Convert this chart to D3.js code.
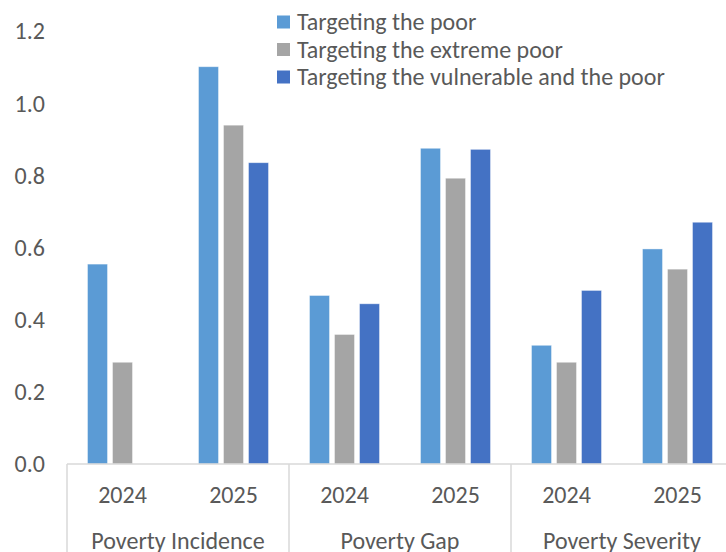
<!DOCTYPE html>
<html><head><meta charset="utf-8">
<script src="https://cdn.jsdelivr.net/npm/d3@7"></script>
<style>
body{margin:0;background:#fff;}
svg{display:block;font-family:Calibri,Carlito,"Open Sans","Noto Sans",sans-serif;}
</style></head>
<body><svg id="c" width="726" height="552"></svg>
<script>
const groups = ["Poverty Incidence", "Poverty Gap", "Poverty Severity"];
const years = ["2024", "2025"];
const seriesNames = ["Targeting the poor", "Targeting the extreme poor", "Targeting the vulnerable and the poor"];
const seriesColors = ["#5B9BD5", "#A5A5A5", "#4472C4"];
// values per series, ordered: Incidence 2024, 2025, Gap 2024, 2025, Severity 2024, 2025
const poor        = [0.554, 1.101, 0.467, 0.875, 0.329, 0.596];
const extremePoor = [0.282, 0.939, 0.359, 0.792, 0.282, 0.540];
const vulnerable  = [null,  0.835, 0.444, 0.872, 0.481, 0.670];
const yTicks = [0, 0.2, 0.4, 0.6, 0.8, 1.0, 1.2];

const seriesValues = [poor, extremePoor, vulnerable];
const svg = d3.select("#c");
const left = 67, right = 733, y0 = 464, yTop = 31;
const FS = 24;

const x = d3.scaleBand().domain(groups).range([left, right]).paddingInner(0).paddingOuter(0);
const xSub = d3.scaleBand().domain(years).range([0, x.bandwidth()]);
const xSer = d3.scaleBand().domain(d3.range(3)).range([xSub.bandwidth()/2 - 35, xSub.bandwidth()/2 + 35]).paddingInner(0.2);
const y = d3.scaleLinear().domain([0, 1.2]).range([y0, yTop]);

// y tick labels
svg.append("g").selectAll("text").data(yTicks).join("text")
  .attr("x", 45).attr("y", d => y(d)).attr("dy", "0.35em")
  .attr("text-anchor", "end").attr("fill", "#595959").attr("font-size", FS)
  .text(d => d.toFixed(1));

// bars
const rows = [];
groups.forEach((g, gi) => years.forEach((yr, yi) => seriesValues.forEach((arr, si) => {
  const v = arr[gi*2 + yi];
  if (v != null) rows.push({g, yr, si, v});
})));
svg.append("g").selectAll("rect").data(rows).join("rect")
  .attr("x", d => x(d.g) + xSub(d.yr) + xSer(d.si))
  .attr("width", xSer.bandwidth())
  .attr("y", d => y(d.v))
  .attr("height", d => y0 - y(d.v))
  .attr("fill", d => seriesColors[d.si])
  .attr("stroke", "#ffffff").attr("stroke-opacity", 0.5).attr("stroke-width", 0.8);

// axis lines
const ax = svg.append("g").attr("stroke", "#D9D9D9").attr("stroke-width", 1.5);
ax.append("line").attr("x1", left).attr("x2", 726).attr("y1", y0).attr("y2", y0);
groups.forEach(g => {
  ax.append("line").attr("x1", x(g)).attr("x2", x(g)).attr("y1", y0).attr("y2", 552);
});

// year labels
const lab = svg.append("g").attr("fill", "#595959").attr("font-size", FS).attr("text-anchor", "middle");
groups.forEach(g => years.forEach(yr => {
  lab.append("text").attr("x", x(g) + xSub(yr) + xSub.bandwidth()/2).attr("y", 495).attr("dy", "0.35em").text(yr);
}));
groups.forEach(g => {
  lab.append("text").attr("x", x(g) + x.bandwidth()/2).attr("y", 541).attr("dy", "0.35em").text(g);
});

// legend
const lg = svg.append("g");
seriesNames.forEach((s, i) => {
  const yy = 22 + i*27.5;
  lg.append("rect").attr("x", 277).attr("y", yy - 6.5).attr("width", 13).attr("height", 13).attr("fill", seriesColors[i]);
  lg.append("text").attr("x", 297).attr("y", yy).attr("dy", "0.35em").attr("fill", "#595959").attr("font-size", FS).text(s);
});
</script></body></html>
